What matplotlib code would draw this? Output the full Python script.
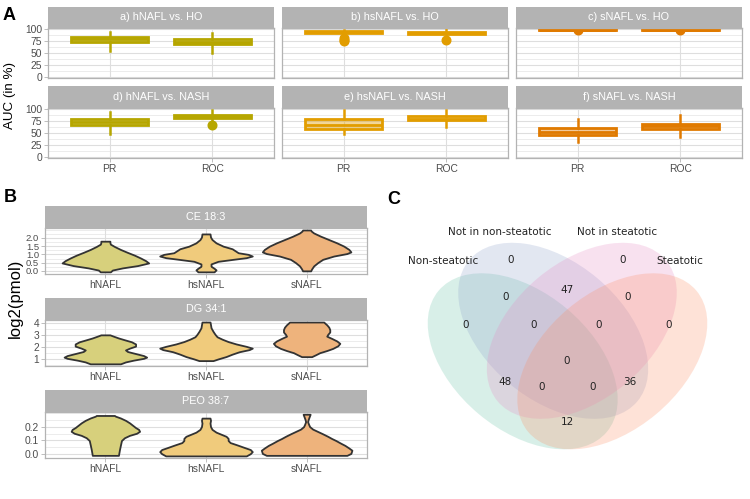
import matplotlib
matplotlib.use("Agg")
import matplotlib.pyplot as plt
from matplotlib.patches import Ellipse
from matplotlib.ticker import MultipleLocator

plt.rcParams['font.family'] = ['Liberation Sans', 'DejaVu Sans']

W, H = 750, 499

# ---------------- panel A: AUC boxplots ----------------
a_titles = ['a) hNAFL vs. HO', 'b) hsNAFL vs. HO', 'c) sNAFL vs. HO',
            'd) hNAFL vs. NASH', 'e) hsNAFL vs. NASH', 'f) sNAFL vs. NASH']
a_metrics = ['PR', 'ROC']
a_colors = ['#B6A600', '#E29D00', '#E07A00']
# one [PR, ROC] pair per facet
whislo = [[54, 50], [88, 85], [98, 98], [47, 74], [48, 63], [32, 41]]
q1 = [[72.5, 68], [92.5, 89.5], [99, 99], [67.5, 82.5], [59, 76.5], [46.5, 57.6]]
med = [[79.5, 74], [95, 92], [99.5, 99.5], [74, 85], [66, 80], [52, 64]]
q3 = [[82.7, 80], [96.5, 94.3], [100, 100], [80.4, 87.3], [79.6, 85.3], [59.5, 69.8]]
whishi = [[95, 93], [99, 100], [100, 100], [95, 98.5], [98, 98.5], [80, 88]]
fliers = [[[], []], [[82, 78, 75], [77.5]], [[97.5], [97.5]],
          [[], [67]], [[], []], [[], []]]

# ---------------- panel B: violins (outline) ----------------
b_titles = ['CE 18:3', 'DG 34:1', 'PEO 38:7']
b_groups = ['hNAFL', 'hsNAFL', 'sNAFL']
b_fills = ['#D7D07C', '#F0CB7C', '#EEB37C']

ce_y = [[-0.06, 0.05, 0.18, 0.32, 0.48, 0.62, 0.78, 0.95, 1.12, 1.30, 1.48, 1.62, 1.72, 1.80],
        [-0.06, 0.06, 0.16, 0.28, 0.42, 0.58, 0.70, 0.80, 0.90, 1.00, 1.10, 1.22, 1.34, 1.50, 1.70, 1.90, 2.05, 2.24],
        [0.0, 0.12, 0.30, 0.50, 0.70, 0.90, 1.05, 1.15, 1.30, 1.50, 1.70, 1.90, 2.10, 2.30, 2.42, 2.48]]
ce_w = [[0.05, 0.07, 0.17, 0.32, 0.43, 0.40, 0.35, 0.29, 0.22, 0.15, 0.09, 0.05, 0.045, 0.045],
        [0.08, 0.10, 0.08, 0.05, 0.05, 0.12, 0.27, 0.40, 0.46, 0.42, 0.32, 0.29, 0.26, 0.17, 0.10, 0.06, 0.045, 0.04],
        [0.04, 0.05, 0.07, 0.11, 0.16, 0.27, 0.40, 0.44, 0.42, 0.37, 0.30, 0.22, 0.14, 0.07, 0.045, 0.04]]

dg_y = [[0.59, 0.75, 0.90, 1.05, 1.15, 1.28, 1.45, 1.62, 1.75, 1.90, 2.07, 2.25, 2.43, 2.60, 2.75, 2.90, 3.01],
        [0.86, 1.00, 1.20, 1.40, 1.60, 1.78, 1.90, 2.05, 2.25, 2.45, 2.65, 2.85, 3.05, 3.30, 3.60, 3.85, 4.08],
        [1.19, 1.35, 1.52, 1.70, 1.88, 2.10, 2.30, 2.50, 2.71, 2.90, 3.05, 3.25, 3.45, 3.65, 3.85, 4.00, 4.08]]
dg_w = [[0.15, 0.20, 0.28, 0.38, 0.41, 0.38, 0.30, 0.22, 0.20, 0.24, 0.30, 0.30, 0.26, 0.19, 0.13, 0.08, 0.045],
        [0.07, 0.12, 0.20, 0.26, 0.33, 0.43, 0.46, 0.40, 0.30, 0.22, 0.16, 0.11, 0.09, 0.07, 0.05, 0.045, 0.04],
        [0.05, 0.09, 0.13, 0.20, 0.26, 0.31, 0.33, 0.30, 0.25, 0.20, 0.21, 0.23, 0.23, 0.22, 0.20, 0.18, 0.17]]

peo_y = [[-0.007, 0.034, 0.068, 0.10, 0.12, 0.137, 0.152, 0.166, 0.18, 0.193, 0.21, 0.227, 0.245, 0.262, 0.275, 0.28],
         [-0.011, 0.005, 0.02, 0.035, 0.05, 0.068, 0.085, 0.10, 0.115, 0.13, 0.145, 0.16, 0.18, 0.20, 0.225, 0.245, 0.261],
         [-0.007, 0.007, 0.03, 0.046, 0.065, 0.08, 0.10, 0.114, 0.13, 0.148, 0.165, 0.182, 0.20, 0.216, 0.235, 0.25, 0.27, 0.289]]
peo_w = [[0.13, 0.14, 0.15, 0.16, 0.19, 0.24, 0.31, 0.34, 0.33, 0.30, 0.27, 0.24, 0.20, 0.15, 0.10, 0.09],
         [0.40, 0.44, 0.46, 0.44, 0.38, 0.31, 0.24, 0.22, 0.22, 0.20, 0.15, 0.10, 0.06, 0.045, 0.04, 0.045, 0.04],
         [0.40, 0.44, 0.45, 0.42, 0.38, 0.34, 0.29, 0.25, 0.21, 0.16, 0.11, 0.06, 0.03, 0.02, 0.01, 0.015, 0.025, 0.035]]

b_ticks = [[0, 0.5, 1, 1.5, 2], [1, 2, 3, 4], [0, 0.1, 0.2]]
b_ticklabels = [['0.0', '0.5', '1.0', '1.5', '2.0'], ['1', '2', '3', '4'], ['0.0', '0.1', '0.2']]
b_minor = [0.25, 0.5, 0.05]
b_ylims = [(-0.19, 2.6), (0.41, 4.25), (-0.026, 0.305)]

# ---------------- panel C: venn counts ----------------
venn_names = ['Non-steatotic', 'Not in non-steatotic', 'Not in steatotic', 'Steatotic']
venn_colors = ['#66C2A5', '#8DA0CB', '#E78AC3', '#FC8D62']
venn_counts = [0, 0, 0, 0, 47, 0, 0, 0, 0, 0, 48, 0, 0, 36, 12]

GRID = '#DEDEDE'
BORDER = '#B3B3B3'
TICKTXT = '#4D4D4D'


def rect(l, t, r, b):
    return [l / W, 1 - b / H, (r - l) / W, (b - t) / H]


def strip(fig, l, t, r, b, title):
    s = fig.add_axes(rect(l, t, r, b))
    s.set_facecolor('#B3B3B3')
    s.set_xticks([])
    s.set_yticks([])
    for sp in s.spines.values():
        sp.set_visible(False)
    s.text(0.5, 0.5, title, color='white', fontsize=7.8, ha='center', va='center',
           transform=s.transAxes)


def style(ax, size=7.4):
    ax.set_axisbelow(True)
    ax.grid(which='major', color=GRID, lw=0.8)
    ax.grid(which='minor', axis='y', color=GRID, lw=0.4)
    for sp in ax.spines.values():
        sp.set_color(BORDER)
        sp.set_linewidth(0.9)
    ax.tick_params(which='major', color=BORDER, length=2.8, width=0.6,
                   labelcolor=TICKTXT, labelsize=size, pad=1.5)
    ax.tick_params(which='minor', length=0)


fig = plt.figure(figsize=(W / 100, H / 100), dpi=100)

# panel A
cols = [(48, 274), (282, 508), (516, 742)]
rows = [(7, 28, 78), (86, 108, 158)]
for k, title in enumerate(a_titles):
    r, c = divmod(k, 3)
    l, rr = cols[c]
    st, pt, pb = rows[r]
    strip(fig, l, st, rr, pt, title)
    ax = fig.add_axes(rect(l, pt, rr, pb))
    col = a_colors[c]
    stats = []
    for j, m in enumerate(a_metrics):
        stats.append(dict(label=m, whislo=whislo[k][j], q1=q1[k][j], med=med[k][j],
                          q3=q3[k][j], whishi=whishi[k][j], fliers=fliers[k][j]))
    ax.bxp(stats, positions=[1, 2], widths=0.75, patch_artist=True, showcaps=False,
           boxprops=dict(facecolor=col + '66', edgecolor=col, linewidth=2.0),
           medianprops=dict(color=col, linewidth=2.0),
           whiskerprops=dict(color=col, linewidth=1.8),
           flierprops=dict(marker='o', markerfacecolor=col, markeredgecolor=col,
                           markersize=6.2, zorder=1))
    ax.set_xlim(0.4, 2.6)
    ax.set_ylim(-2.8, 102.7)
    ax.set_yticks([0, 25, 50, 75, 100])
    ax.yaxis.set_minor_locator(MultipleLocator(12.5))
    ax.set_xticks([1, 2])
    style(ax)
    if r == 1:
        ax.set_xticklabels(a_metrics)
    else:
        ax.set_xticklabels([])
        ax.tick_params(axis='x', length=0)
    if c != 0:
        ax.set_yticklabels([])
        ax.tick_params(axis='y', length=0)

fig.text(10 / W, 1 - 95 / H, 'AUC (in %)', rotation=90, ha='center', va='center', fontsize=9.6)

# panel B
b_rows = [(206, 228, 274), (298, 320, 366), (390, 412, 458)]
b_y = [ce_y, dg_y, peo_y]
b_w = [ce_w, dg_w, peo_w]
for k, title in enumerate(b_titles):
    st, pt, pb = b_rows[k]
    strip(fig, 45, st, 367, pt, title)
    ax = fig.add_axes(rect(45, pt, 367, pb))
    for i, g in enumerate(b_groups):
        ys = b_y[k][i]
        ws = b_w[k][i]
        ax.fill_betweenx(ys, [i + 1 - w for w in ws], [i + 1 + w for w in ws],
                         facecolor=b_fills[i], edgecolor='#333333', linewidth=1.3, zorder=2)
    ax.set_xlim(0.4, 3.6)
    ax.set_ylim(*b_ylims[k])
    ax.set_xticks([1, 2, 3])
    ax.set_xticklabels(b_groups)
    ax.set_yticks(b_ticks[k])
    ax.set_yticklabels(b_ticklabels[k])
    ax.yaxis.set_minor_locator(MultipleLocator(b_minor[k]))
    style(ax)
    if k == 0:
        ax.tick_params(axis='y', labelsize=6.8)

fig.text(15 / W, 1 - 298 / H, 'log2(pmol)', rotation=90, ha='center', va='center', fontsize=12)

# panel C
vax = fig.add_axes(rect(380, 200, 750, 499))
vax.set_xlim(380, 750)
vax.set_ylim(499, 200)
vax.axis('off')
centers = [(522.7, 361.3), (553.2, 330.8), (581.8, 330.8), (612.3, 361.3)]
angles = [40, 40, 140, 140]
for (cx, cy), ang, col in zip(centers, angles, venn_colors):
    vax.add_patch(Ellipse((cx, cy), 219.6, 137.3, angle=ang, facecolor=col,
                          alpha=0.25, edgecolor='none'))
count_pos = [(466, 325), (511, 260), (623, 260), (669, 325), (567, 290), (506, 297),
             (628, 297), (534, 325), (599, 325), (567, 361), (505, 382), (542, 387),
             (593, 387), (630, 382), (567, 422)]
for (x, y), n in zip(count_pos, venn_counts):
    vax.text(x, y, str(n), ha='center', va='center', fontsize=7.5,
             family='DejaVu Sans', color='#222222')
name_pos = [(478, 261, 'right'), (500, 232, 'center'), (617, 232, 'center'), (656, 261, 'left')]
for (x, y, ha), name in zip(name_pos, venn_names):
    vax.text(x, y, name, ha=ha, va='center', fontsize=7.5, family='DejaVu Sans',
             color='#222222')

# panel letters
fig.text(3 / W, 1 - 16 / H, 'A', fontsize=13, fontweight='bold', va='center')
fig.text(4 / W, 1 - 198 / H, 'B', fontsize=13, fontweight='bold', va='center')
fig.text(387 / W, 1 - 200 / H, 'C', fontsize=13, fontweight='bold', va='center')

fig.savefig('out.png', dpi=100)
